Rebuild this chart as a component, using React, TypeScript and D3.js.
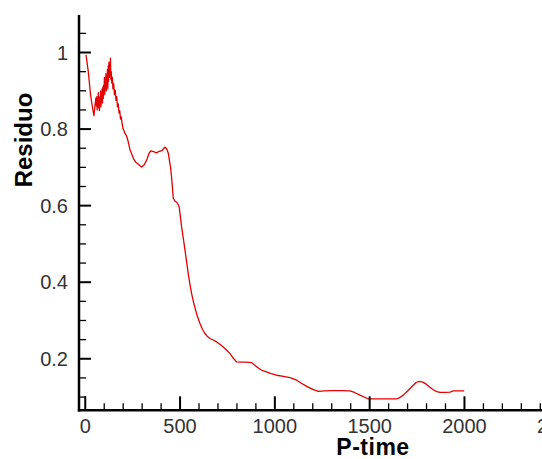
import React from "react";
import * as d3 from "d3";

const W = 542;
const H = 459;

// P-time values
const pTime = [
  4, 16, 28, 39, 46, 51, 56, 59, 61, 63, 65, 67, 69, 71, 73, 75, 77, 79, 81, 83, 85, 87, 89, 91, 93, 95, 97, 99, 101,
  103, 105, 107, 109, 111, 113, 115, 117, 119, 121, 123, 125, 127, 129, 131, 133, 135, 137, 140, 143, 146, 150, 154,
  158, 162, 166, 170, 174, 178, 182, 186, 190, 195, 200, 205, 210, 218, 224, 230, 236, 245, 255, 265, 280, 297, 310,
  324, 335, 345, 360, 376, 390, 405, 420, 430, 438, 445, 450, 457, 464, 472, 482, 490, 496, 502, 508, 517, 526, 535,
  543, 552, 561, 570, 578, 590, 605, 618, 631, 645, 658, 675, 693, 710, 728, 745, 763, 780, 798, 820, 850, 877, 904,
  930, 948, 980, 1009, 1045, 1080, 1115, 1140, 1168, 1200, 1229, 1260, 1300, 1350, 1396, 1420, 1449, 1493, 1540, 1600,
  1643, 1660, 1677, 1700, 1722, 1745, 1762, 1780, 1800, 1820, 1835, 1855, 1871, 1900, 1924, 1941, 1970, 1999,
];

// Residuo values
const residuo = [
  0.994, 0.95, 0.889, 0.854, 0.835, 0.86, 0.881, 0.86, 0.885, 0.85, 0.878, 0.862, 0.895, 0.855, 0.88, 0.848, 0.885,
  0.87, 0.9, 0.858, 0.892, 0.875, 0.905, 0.868, 0.91, 0.88, 0.915, 0.895, 0.935, 0.89, 0.925, 0.905, 0.945, 0.9, 0.94,
  0.915, 0.955, 0.905, 0.965, 0.925, 0.975, 0.935, 0.96, 0.945, 0.985, 0.93, 0.95, 0.92, 0.935, 0.905, 0.918, 0.89,
  0.902, 0.875, 0.885, 0.858, 0.866, 0.842, 0.848, 0.826, 0.832, 0.812, 0.8, 0.795, 0.788, 0.782, 0.772, 0.76, 0.746,
  0.735, 0.722, 0.714, 0.708, 0.701, 0.706, 0.719, 0.735, 0.743, 0.741, 0.738, 0.742, 0.744, 0.753, 0.748, 0.737,
  0.715, 0.7, 0.665, 0.62, 0.612, 0.609, 0.603, 0.595, 0.57, 0.545, 0.515, 0.484, 0.452, 0.423, 0.395, 0.37, 0.35,
  0.335, 0.313, 0.292, 0.277, 0.266, 0.258, 0.253, 0.249, 0.244, 0.238, 0.231, 0.223, 0.214, 0.202, 0.192, 0.191,
  0.191, 0.19, 0.179, 0.17, 0.167, 0.161, 0.157, 0.154, 0.151, 0.144, 0.136, 0.128, 0.12, 0.115, 0.116, 0.117, 0.117,
  0.116, 0.112, 0.105, 0.095, 0.095, 0.095, 0.095, 0.099, 0.105, 0.116, 0.127, 0.138, 0.141, 0.139, 0.133, 0.125,
  0.119, 0.114, 0.112, 0.112, 0.113, 0.116, 0.116, 0.116,
];

const xMajorTicks = [0, 500, 1000, 1500, 2000, 2500];
const xMinorTicks = d3.range(0, 2501, 100).filter((v) => v % 500 !== 0);
const yMajorTicks = [0.2, 0.4, 0.6, 0.8, 1];
const yMinorTicks = [0.1, 0.15, 0.25, 0.3, 0.35, 0.45, 0.5, 0.55, 0.65, 0.7, 0.75, 0.85, 0.9, 0.95, 1.05];

const fmtY = (v: number) => (v === 1 ? "1" : d3.format(".1f")(v));

export default function App() {
  const x0 = 79;
  const y0 = 410.3;
  const x = d3.scaleLinear().domain([-33, 2500]).range([x0, x0 + 2533 * 0.1896]);
  const y = d3.scaleLinear().domain([0.0654, 1.098]).range([y0, 15]);

  const data = pTime.map((t, i) => [t, residuo[i]] as [number, number]);
  const line = d3
    .line<[number, number]>()
    .x((d) => x(d[0]))
    .y((d) => y(d[1]));

  const tickColor = "#000";
  const font = "Liberation Sans, Arial, sans-serif";
  const labelStyle = { fontFamily: font, fontSize: 20, fill: "#333" };

  return (
    <svg
      width={W}
      height={H}
      style={{ position: "absolute", left: 0, top: 0, display: "block", background: "#fff" }}
    >
      <rect width={W} height={H} fill="#fff" />
      {/* curve */}
      <path d={line(data) || ""} fill="none" stroke="#e00000" strokeWidth={1.3} strokeLinejoin="round" />

      {/* y axis */}
      <line x1={x0} x2={x0} y1={15} y2={y0 + 1.2} stroke={tickColor} strokeWidth={2.5} />
      {yMajorTicks.map((v) => (
        <g key={"ym" + v}>
          <line x1={x0} x2={x0 + 12} y1={y(v)} y2={y(v)} stroke={tickColor} strokeWidth={2} />
          <text x={68} y={y(v)} dy="0.36em" textAnchor="end" style={labelStyle}>
            {fmtY(v)}
          </text>
        </g>
      ))}
      {yMinorTicks.map((v) => (
        <line key={"yn" + v} x1={x0} x2={x0 + 7} y1={y(v)} y2={y(v)} stroke={tickColor} strokeWidth={1.3} />
      ))}

      {/* x axis */}
      <line x1={x0 - 1.2} x2={W + 40} y1={y0} y2={y0} stroke={tickColor} strokeWidth={2.5} />
      {xMajorTicks.map((v) => (
        <g key={"xm" + v}>
          <line x1={x(v)} x2={x(v)} y1={y0} y2={y0 - 14} stroke={tickColor} strokeWidth={2} />
          <text x={x(v)} y={432.5} textAnchor="middle" style={labelStyle}>
            {v}
          </text>
        </g>
      ))}
      {xMinorTicks.map((v) => (
        <line key={"xn" + v} x1={x(v)} x2={x(v)} y1={y0} y2={y0 - 7} stroke={tickColor} strokeWidth={1.3} />
      ))}

      {/* axis titles */}
      <text
        x={373}
        y={454.5}
        textAnchor="middle"
        style={{ fontFamily: font, fontSize: 23, fontWeight: "bold", fill: "#000", letterSpacing: 0.5 }}
      >
        P-time
      </text>
      <text
        transform={`translate(32,140) rotate(-90)`}
        textAnchor="middle"
        style={{ fontFamily: font, fontSize: 24, fontWeight: "bold", fill: "#000" }}
      >
        Residuo
      </text>
    </svg>
  );
}
